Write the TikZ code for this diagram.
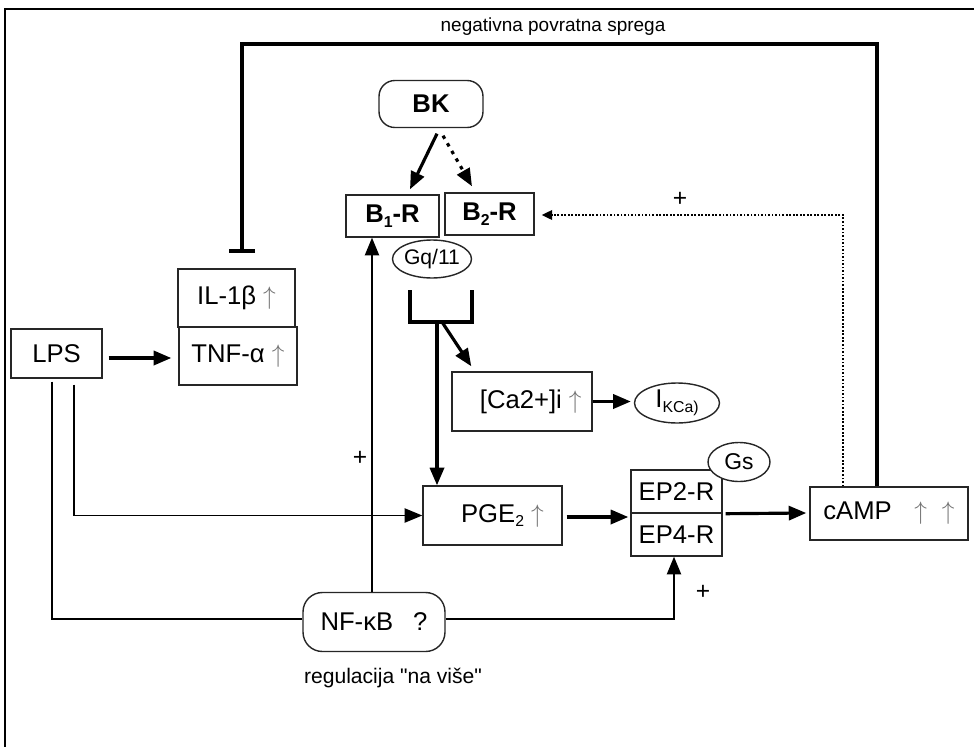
\documentclass[tikz,border=0pt]{standalone}
\usepackage{fontspec}
\setmainfont{Liberation Sans}
\usetikzlibrary{arrows.meta,calc,shapes.geometric}
\newcommand{\upar}{{\color{black!55}$\uparrow$}}
\newcommand{\sbs}[1]{\raisebox{-0.35ex}{\fontsize{9}{10}\selectfont #1}}
\begin{document}
\begin{tikzpicture}[x=0.02cm,y=-0.02cm,
  box/.style={draw=black!85,line width=0.8pt,rectangle,inner sep=0pt,fill=white,font=\fontsize{14.6}{16}\selectfont},
  bbox/.style={box,font=\bfseries\fontsize{14.6}{16}\selectfont},
  ell/.style={draw=black!85,line width=0.8pt,ellipse,inner sep=0pt,fill=white,font=\fontsize{12}{13}\selectfont},
  thk/.style={line width=1.8pt},
  thn/.style={line width=1pt},
  arr/.style={-{Triangle[length=10pt,width=8pt]}},
  sarr/.style={-{Triangle[length=6pt,width=5.5pt]}},
  lbl/.style={font=\fontsize{12}{14}\selectfont},
  plus/.style={font=\fontsize{14}{14}\selectfont}
]
\useasboundingbox (0,0) rectangle (974,747);

% outer frame
\draw[line width=1.7pt] (5,747) -- (5,9) -- (974,9);

% nodes
\node[bbox,rounded corners=9pt,minimum width=2.08cm,minimum height=0.94cm] (BK) at (431,104) {BK};
\node[bbox,minimum width=1.86cm,minimum height=0.84cm] (B1R) at (392.5,216) {B\sbs{1}-R};
\node[bbox,minimum width=1.78cm,minimum height=0.84cm] (B2R) at (489.5,214) {B\sbs{2}-R};
\node[ell,minimum width=1.54cm,minimum height=0.76cm] (Gq) at (432,259) {Gq/11};
\node[box,minimum width=2.34cm,minimum height=1.16cm] (IL) at (236.5,298) {IL-1β \upar};
\node[box,minimum width=2.36cm,minimum height=1.16cm] (TNF) at (238,356) {TNF-α \upar};
\node[box,minimum width=1.82cm,minimum height=0.98cm] (LPS) at (56.5,353.5) {LPS};
\node[box,minimum width=2.8cm,minimum height=1.18cm] (Ca) at (522,401.5) {\hspace*{0.35cm}[Ca2+]i \upar};
\node[ell,font=\fontsize{14.6}{16}\selectfont,minimum width=1.7cm,minimum height=0.8cm] (IK) at (677,403) {I\sbs{KCa)}};
\node[box,minimum width=2.78cm,minimum height=1.18cm] (PGE) at (492.5,515.5) {\hspace*{0.4cm}PGE\sbs{2} \upar};
\node[box,minimum width=1.82cm,minimum height=0.86cm] (EP2) at (676.5,491.5) {EP2-R};
\node[box,minimum width=1.82cm,minimum height=0.86cm] (EP4) at (676.5,534.5) {EP4-R};
\node[ell,font=\fontsize{13}{14}\selectfont,minimum width=1.24cm,minimum height=0.78cm] (Gs) at (739,462) {Gs};
\node[box,minimum width=3.16cm,minimum height=1.06cm] (cAMP) at (889,513.5) {cAMP\hspace{0.45cm}\upar\hspace{0.3cm}\upar};
\node[box,rounded corners=11pt,minimum width=2.84cm,minimum height=1.18cm] (NF) at (374,622) {NF-κB\hspace{0.4cm}?};

% labels
\node[font=\fontsize{10.8}{13}\selectfont] (neg) at (553,27) {negativna povratna sprega};
\node[plus] (p1) at (680,199) {+};
\node[plus] (p2) at (360,458) {+};
\node[plus] (p3) at (703,592) {+};
\node[lbl] (reg) at (393,678) {regulacija \textquotedbl na više\textquotedbl};

% BK to receptors
\draw[thk,arr] ($(BK.south)+(6,5.5)$) -- ($(B1R.north)+(17.5,-5)$);
\draw[thk,dash pattern=on 2pt off 3pt,arr] ($(BK.south)+(12,7.5)$) -- ($(B2R.north)+(-17.5,-6)$);

% bracket under Gq/11
\coordinate (brL) at (410,290);
\coordinate (brR) at (472,290);
\coordinate (brB) at (437,322);
\draw[thk,line join=miter] (brL) -- (brL |- brB) -- (brR |- brB) -- (brR);
\draw[thk,arr] (brB) -- (brB |- PGE.north);
\draw[thk,arr] ($(brB)+(5,0)$) -- ($(Ca.north west)+(20,-5)$);

% Ca -> IKCa
\draw[thk,arr] (Ca.east) -- ($(Ca.east -| IK.west)+(-3,0)$);

% LPS -> TNF
\draw[thk,arr] ($(LPS.east)+(6,4.5)$) -- ($(LPS.east -| TNF.west)+(-7,4.5)$);

% NF-kB line
\coordinate (nfl) at ($(NF.west)+(0,-3)$);
\draw[thn] ($(LPS.south)+(-4.5,3)$) |- (nfl);
\draw[thn,densely dotted] ($(TNF.south)+(5,0)$) -- ($(TNF.south)+(5,0)$ |- nfl);
\draw[thn,arr] ($(LPS.south)+(17.5,6)$) |- (PGE.west);
\draw[thn,arr] ($(NF.north)+(-2,0)$) -- ($(B1R.south)+(-20.5,0)$);
\draw[thn,arr] ($(NF.east)+(0,-3)$) -| ($(EP4.south)+(-2.5,0)$);

% PGE -> EP -> cAMP
\draw[thk,arr] ($(PGE.east)+(4,1.5)$) -- ($(PGE.east -| EP4.west)+(-2,1.5)$);
\draw[thk,arr] ($(EP2.south east)+(3,0)$) -- ($(cAMP.west)+(-3,-0.5)$);

% cAMP -> B2R (dotted, +)
\draw[thn,densely dotted,sarr] ($(cAMP.north)+(-46,0)$) |- ($(B2R.east)+(7,1)$);

% negative feedback
\draw[line width=2.4pt,-{Bar[width=15pt]}] ($(cAMP.north)+(-12,0)$) -- ++(0,-442) -| ($(IL.north)+(5.5,-15)$);
\end{tikzpicture}
\end{document}
